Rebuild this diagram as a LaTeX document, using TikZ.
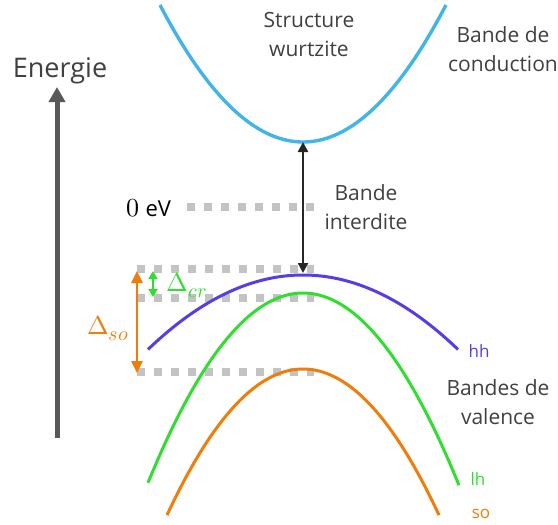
\documentclass[tikz,border=0pt]{standalone}
\usepackage{fontspec}
\usepackage{unicode-math}
\setmainfont{Open Sans}
\DeclareMathSizes{26}{26}{20}{15}
\usetikzlibrary{arrows.meta}
\definecolor{cbblue}{HTML}{41B6E6}
\definecolor{hhviolet}{HTML}{5A3CE6}
\definecolor{lhgreen}{HTML}{30DE30}
\definecolor{soorange}{HTML}{F07D0A}
\definecolor{txtgray}{HTML}{404040}
\definecolor{axisgray}{HTML}{595959}
\definecolor{levelgray}{HTML}{C3C3C3}
\begin{document}
\begin{tikzpicture}[x=1pt,y=-1pt,
  band/.style={line width=3pt},
  level/.style={line width=8pt,levelgray,dash pattern=on 8pt off 9pt},
  lbl/.style={text=txtgray,font=\fontsize{21}{29}\selectfont,align=center},
  small/.style={font=\fontsize{17}{20}\selectfont,anchor=base},
  delta/.style={font=\fontsize{26}{30}\selectfont},
  gap/.style={line width=2.2pt,color=black!85,{Triangle[width=10pt,length=10pt]}-{Triangle[width=10pt,length=10pt]}}]
  \useasboundingbox (0,0) rectangle (558,525);
  % niveaux
  \draw[level] (187,207) -- (320,207);
  \draw[level] (137,269) -- (314,269);
  \draw[level] (137,298) -- (314,298);
  \draw[level] (137,372) -- (314,372);
  % bandes
  \begin{scope}
    \clip (0,0) rectangle (558,525);
    \draw[band,cbblue,line width=3.4pt] plot[domain=160:446,samples=90] (\x,{142-0.67*((\x-303)/10)^2});
    \draw[band,hhviolet] plot[domain=148:458,samples=90] (\x,{275+0.31*((\x-303)/10)^2});
    \draw[band,lhgreen] plot[domain=148:459,samples=90] (\x,{293+0.79*((\x-303)/10)^2});
    \draw[band,soorange] plot[domain=167:439,samples=90] (\x,{369+0.79*((\x-303)/10)^2});
  \end{scope}
  % fleches
  \coordinate (ebot) at (57,438);
  \coordinate (etop) at (57,87);
  \draw[line width=5pt,axisgray,-{Triangle[width=16pt,length=15pt]}] (ebot) -- (etop);
  \coordinate (vbmax) at (303,273);
  \coordinate (cbmin) at (303,142);
  \draw[gap] (vbmax) -- (cbmin);
  \coordinate (sotop) at (137,271);
  \coordinate (sobot) at (137,373);
  \draw[line width=2.6pt,soorange,{Triangle[width=11pt,length=12pt]}-{Triangle[width=11pt,length=12pt]}] (sotop) -- (sobot);
  \coordinate (crtop) at (153,271);
  \coordinate (crbot) at (153,297);
  \draw[line width=2pt,lhgreen,{Triangle[width=9pt,length=8pt]}-{Triangle[width=9pt,length=8pt]}] (crtop) -- (crbot);
  % textes
  \node[text=txtgray,font=\fontsize{27}{30}\selectfont,anchor=base] (energie) at (60,77) {Energie};
  \node[lbl] (wurtz) at (309,34) {Structure\\wurtzite};
  \node[lbl] (bc) at (503,49) {Bande de\\conduction};
  \node[lbl] (bi) at (366,207) {Bande\\interdite};
  \node[lbl] (bv) at (498,402) {Bandes de\\valence};
  \node[font=\fontsize{22}{26}\selectfont,anchor=base] (zero) at (149,216) {{\fontsize{26}{30}\selectfont$0$} eV};
  \node[delta,text=lhgreen,anchor=base west] (dcr) at (163,291) {$\Delta_{cr}$};
  \node[delta,text=soorange,anchor=base] (dso) at (108,334) {$\Delta_{so}$};
  \node[small,text=hhviolet] (hh) at (479,357) {hh};
  \node[small,text=lhgreen] (lh) at (478,485) {lh};
  \node[small,text=soorange] (so) at (481,518) {so};
\end{tikzpicture}
\end{document}
